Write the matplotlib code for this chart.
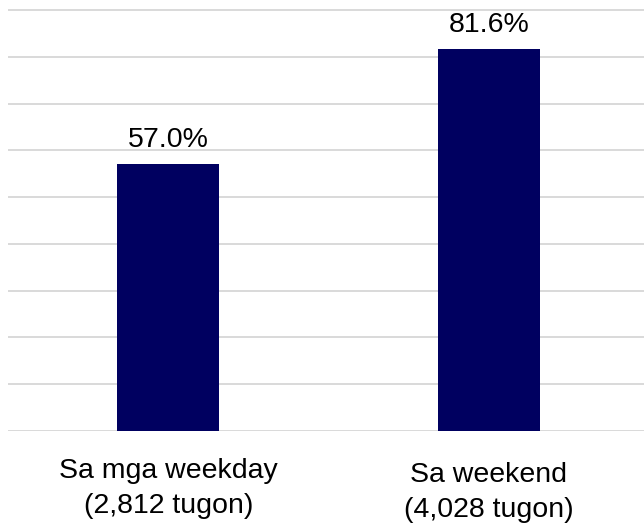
import matplotlib.pyplot as plt

plt.rcParams['font.family'] = ['Liberation Sans', 'DejaVu Sans']

categories = ["Sa mga weekday\n(2,812 tugon)", "Sa weekend\n(4,028 tugon)"]
values = [57.0, 81.6]
value_labels = ["57.0%", "81.6%"]
grid_levels = [0, 10, 20, 30, 40, 50, 60, 70, 80, 90]

BAR_COLOR = "#000060"
GRID_COLOR = "#d9d9d9"

fig = plt.figure(figsize=(6.44, 5.23), dpi=100)
ax = fig.add_axes([8 / 644, (523 - 431) / 523, 636 / 644, (431 - 5.3) / 523])

x = list(range(len(categories)))
bars = ax.bar(x, values, width=0.318, color=BAR_COLOR, zorder=3)

for lvl in grid_levels:
    ax.axhline(lvl, color=GRID_COLOR, lw=1.4, zorder=1)

for b, lab in zip(bars, value_labels):
    ax.annotate(lab, (b.get_x() + b.get_width() / 2, b.get_height()),
                xytext=(0, 8), textcoords="offset points",
                ha="center", va="bottom", fontsize=20.5, color="black")

# category labels (second one sits a touch lower in the original)
label_drop = [19.4, 22.3]
for xi, cat, dy in zip(x, categories, label_drop):
    ax.annotate(cat, (xi, 0), xytext=(0, -dy), textcoords="offset points",
                ha="center", va="top", fontsize=20.5, linespacing=1.46,
                annotation_clip=False)

ax.set_xlim(-0.5, 1.484)
ax.set_ylim(0, 91)
ax.set_xticks([])
ax.set_yticks([])
for s in ax.spines.values():
    s.set_visible(False)

fig.savefig("out.png", dpi=100)
